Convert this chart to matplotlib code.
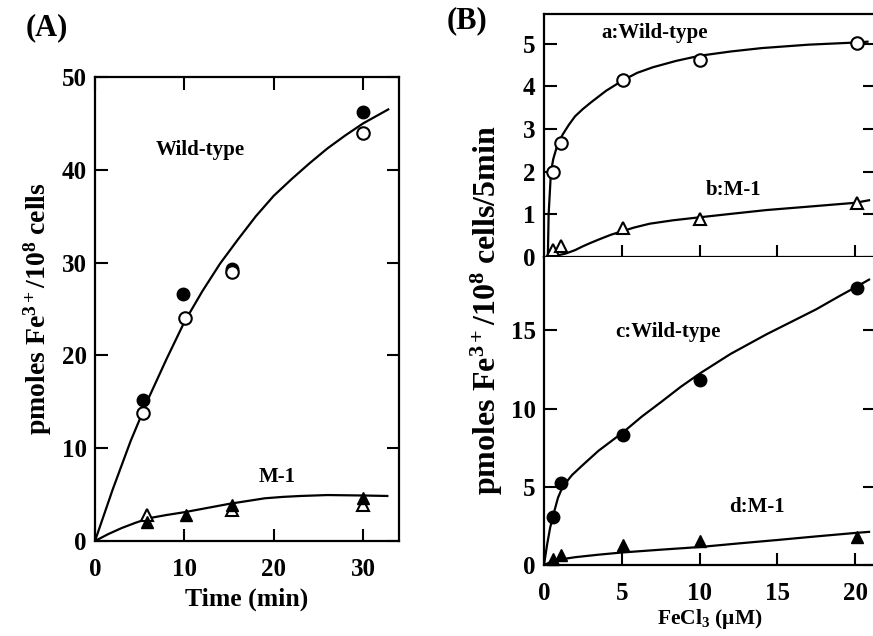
import numpy as np
import matplotlib
matplotlib.use("Agg")
import matplotlib.pyplot as plt

plt.rcParams['font.family'] = ['Liberation Serif', 'DejaVu Serif']
plt.rcParams['font.weight'] = 'bold'
plt.rcParams['mathtext.fontset'] = 'custom'
plt.rcParams['mathtext.rm'] = 'Liberation Serif:bold'
plt.rcParams['mathtext.bf'] = 'Liberation Serif:bold'
plt.rcParams['mathtext.it'] = 'Liberation Serif:bold'

# ---- panel A data (time course) ----
t_wt_open = [5.4, 10.1, 15.3, 30.0]
y_wt_open = [13.8, 24.0, 29.0, 44.0]
t_wt_fill = [5.4, 9.8, 15.3, 30.0]
y_wt_fill = [15.2, 26.6, 29.3, 46.2]
t_m1_fill = [5.8, 10.2, 15.3, 30.0]
y_m1_fill = [2.0, 2.8, 3.9, 4.6]
t_m1_open = [5.8, 15.3, 30.0]
y_m1_open = [2.8, 3.3, 3.9]

# fitted curves
t_wt_curve = [0, 2, 4, 6, 8, 10, 12, 14, 16, 18, 20, 22, 24, 26, 28, 30, 32.8]
y_wt_curve = [0, 5.6, 10.8, 15.4, 19.6, 23.6, 26.9, 29.9, 32.5, 35.0, 37.2, 39.0, 40.7, 42.3, 43.7, 45.0, 46.5]
t_m1_curve = [0, 1.5, 3, 4.5, 6, 8, 10, 12.5, 15, 17, 19, 21, 23, 26, 30, 32.7]
y_m1_curve = [0, 0.75, 1.4, 1.95, 2.45, 2.8, 3.1, 3.55, 4.0, 4.3, 4.6, 4.75, 4.85, 4.95, 4.9, 4.85]

# ---- panel B data (concentration dependence) ----
fe_pts = [0.6, 1.1, 5.1, 10.0, 20.1]
a_wt = [2.0, 2.67, 4.15, 4.62, 5.03]
b_m1 = [0.17, 0.25, 0.67, 0.89, 1.27]
c_wt = [3.1, 5.25, 8.3, 11.8, 17.7]
d_m1 = [0.4, 0.65, 1.3, 1.55, 1.8]

fe_a_curve = [0.25, 0.3, 0.45, 0.6, 0.8, 1.0, 1.2, 1.6, 2.0, 2.5, 3.0, 4.0, 5.1, 6, 7, 8.5, 10, 12, 14, 17, 20, 20.8]
a_curve = [0, 1.0, 2.0, 2.3, 2.55, 2.72, 2.87, 3.1, 3.3, 3.47, 3.62, 3.9, 4.15, 4.32, 4.45, 4.6, 4.72, 4.82, 4.9, 4.98, 5.03, 5.05]
fe_b_curve = [0.25, 0.8, 1.4, 2.0, 2.5, 3.0, 3.6, 4.3, 5, 5.8, 6.8, 8.3, 10, 12, 14.3, 17, 20, 20.9]
b_curve = [0, 0.03, 0.08, 0.16, 0.25, 0.33, 0.42, 0.52, 0.6, 0.69, 0.78, 0.86, 0.93, 1.01, 1.1, 1.18, 1.27, 1.33]
fe_c_curve = [0, 0.2, 0.4, 0.6, 0.9, 1.2, 1.8, 2.5, 3.5, 5.1, 6.3, 7.5, 8.8, 10.1, 12, 14.3, 16, 17.5, 19, 20.1, 20.9]
c_curve = [0, 1.3, 2.4, 3.2, 4.3, 5.0, 5.75, 6.4, 7.3, 8.5, 9.5, 10.4, 11.4, 12.3, 13.5, 14.75, 15.6, 16.35, 17.2, 17.8, 18.25]
fe_d_curve = [0, 0.5, 1, 2, 3.5, 5, 7.5, 10, 12.5, 15, 17.5, 20, 20.9]
d_curve = [0, 0.22, 0.35, 0.5, 0.66, 0.8, 0.98, 1.15, 1.38, 1.6, 1.83, 2.05, 2.12]

fig = plt.figure(figsize=(8.73, 6.36), dpi=100)

tick_kw = dict(direction='in', length=9, width=1.5, labelsize=18)
lw = 1.6
ms = 9


def style(ax):
    for s in ax.spines.values():
        s.set_linewidth(1.6)
    ax.tick_params(which='both', **tick_kw)
    ax.tick_params(axis='x', pad=12)
    ax.tick_params(axis='y', pad=6)
    for lab in ax.get_xticklabels() + ax.get_yticklabels():
        lab.set_fontweight('bold')


# ===== (A) =====
axA = fig.add_axes([0.1088, 0.1494, 0.3482, 0.7296])
axA.plot(t_wt_curve, y_wt_curve, color='black', lw=lw)
axA.plot(t_m1_curve, y_m1_curve, color='black', lw=lw)
axA.plot(t_wt_fill, y_wt_fill, 'o', color='black', ms=ms, clip_on=False)
axA.plot(t_wt_open, y_wt_open, 'o', mfc='white', mec='black', mew=1.5, ms=ms, clip_on=False)
axA.plot(t_m1_open, y_m1_open, '^', mfc='white', mec='black', mew=1.5, ms=ms, clip_on=False)
axA.plot(t_m1_fill, y_m1_fill, '^', color='black', ms=ms, clip_on=False)
axA.set_xlim(0, 34)
axA.set_ylim(0, 50)
axA.set_xticks([0, 10, 20, 30])
axA.set_yticks([0, 10, 20, 30, 40, 50])
axA.tick_params(top=True, right=True)
style(axA)
axA.set_xlabel('Time (min)', fontsize=18.5, fontweight='bold', labelpad=5)
fig.text(0.043, 0.515, r'pmoles Fe$^{3+}$/10$^{8}$ cells', fontsize=20,
         fontweight='bold', rotation=90, ha='center', va='center')
axA.text(11.8, 42.1, 'Wild-type', fontsize=15, fontweight='bold', ha='center', va='center')
axA.text(20.4, 6.9, 'M-1', fontsize=15, fontweight='bold', ha='center', va='center')
fig.text(0.054, 0.956, '(A)', fontsize=22, fontweight='bold', ha='center', va='center')

# ===== (B) upper =====
axB1 = fig.add_axes([0.6231, 0.596, 0.3795, 0.382])
axB1.plot(fe_a_curve, a_curve, color='black', lw=lw)
axB1.plot(fe_b_curve, b_curve, color='black', lw=lw)
axB1.plot(fe_pts, a_wt, 'o', mfc='white', mec='black', mew=1.5, ms=ms, clip_on=False)
axB1.plot(fe_pts, b_m1, '^', mfc='white', mec='black', mew=1.5, ms=ms, clip_on=False)
axB1.set_xlim(0, 21.3)
axB1.set_ylim(0, 5.7)
axB1.set_yticks([0, 1, 2, 3, 4, 5])
axB1.set_xticks([5, 10, 15, 20])
axB1.tick_params(right=True, labelbottom=False)
style(axB1)
axB1.text(7.1, 5.26, 'a:Wild-type', fontsize=15, fontweight='bold', ha='center', va='center')
axB1.text(12.2, 1.56, 'b:M-1', fontsize=15, fontweight='bold', ha='center', va='center')

# ===== (B) lower =====
axB2 = fig.add_axes([0.6231, 0.1116, 0.3795, 0.4844])
axB2.plot(fe_c_curve, c_curve, color='black', lw=lw)
axB2.plot(fe_d_curve, d_curve, color='black', lw=lw)
axB2.plot(fe_pts, c_wt, 'o', color='black', ms=ms, clip_on=False)
axB2.plot(fe_pts, d_m1, '^', color='black', ms=ms, clip_on=False)
axB2.set_xlim(0, 21.3)
axB2.set_ylim(0, 19.7)
axB2.set_yticks([0, 5, 10, 15])
axB2.set_xticks([0, 5, 10, 15, 20])
axB2.tick_params(right=True)
style(axB2)
axB2.spines['top'].set_visible(False)
axB2.set_xlabel(r'FeCl$_3$ ($\mu$M)', fontsize=15.5, fontweight='bold', labelpad=2)
axB2.text(8.0, 14.9, 'c:Wild-type', fontsize=15, fontweight='bold', ha='center', va='center')
axB2.text(13.7, 3.7, 'd:M-1', fontsize=15, fontweight='bold', ha='center', va='center')

fig.text(0.558, 0.512, r'pmoles Fe$^{3+}$/10$^{8}$ cells/5min', fontsize=23,
         fontweight='bold', rotation=90, ha='center', va='center')
fig.text(0.535, 0.968, '(B)', fontsize=22, fontweight='bold', ha='center', va='center')

fig.savefig('out.png', dpi=100)
